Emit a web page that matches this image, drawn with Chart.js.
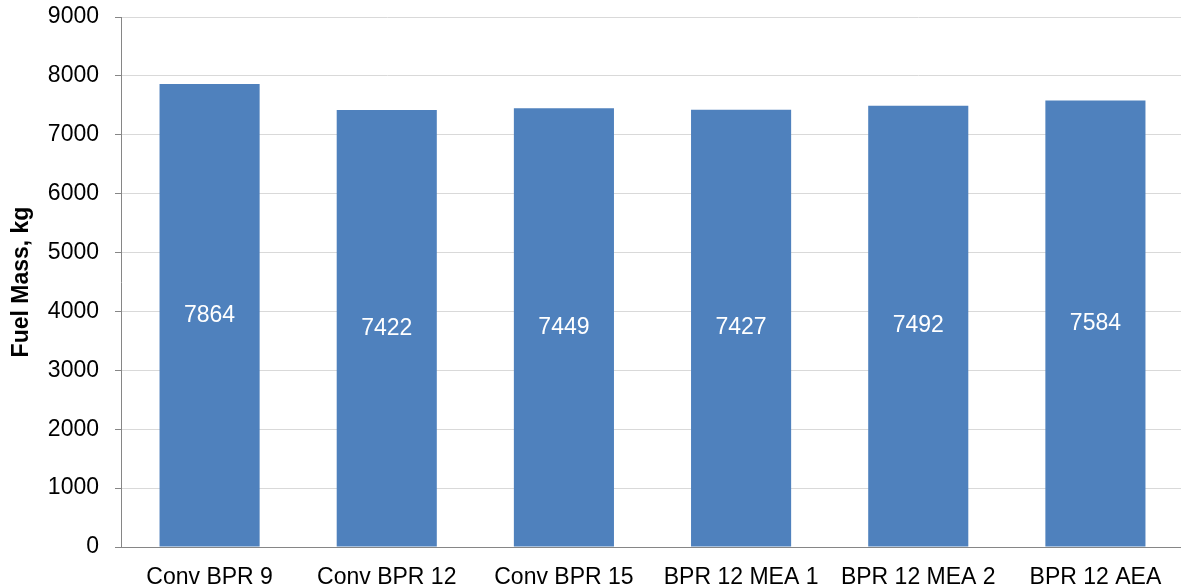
<!DOCTYPE html>
<html>
<head>
<meta charset="utf-8">
<script src="https://cdn.jsdelivr.net/npm/chart.js@4"></script>
<style>
    html, body { margin: 0; padding: 0; background: #fff; overflow: hidden; }
    #wrap { position: absolute; left: 0; top: 0; width: 1190px; height: 610px; }
</style>
</head>
<body>
<div id="wrap"><canvas id="chartCanvas" width="1190" height="610"></canvas></div>
<script>
// chart data
const categories = ["Conv BPR 9", "Conv BPR 12", "Conv BPR 15", "BPR 12 MEA 1", "BPR 12 MEA 2", "BPR 12 AEA"];
const fuelMass = [7864, 7422, 7449, 7427, 7492, 7584];
const yTicks = [0, 1000, 2000, 3000, 4000, 5000, 6000, 7000, 8000, 9000];

const FONT = "'Liberation Sans', Arial, sans-serif";

/* ----------------------------------------
   VALUE LABELS INSIDE BARS
---------------------------------------- */
const barLabels = {
    id: "barLabels",
    afterDatasetsDraw(chart) {
        const ctx = chart.ctx;
        const meta = chart.getDatasetMeta(0);
        ctx.save();
        ctx.fillStyle = "#fff";
        ctx.font = "23px " + FONT;
        ctx.textAlign = "center";
        ctx.textBaseline = "middle";
        meta.data.forEach((bar, i) => {
            const mid = (bar.y + bar.base) / 2;
            ctx.fillText(String(fuelMass[i]), bar.x, mid);
        });
        ctx.restore();
    }
};

new Chart(document.getElementById("chartCanvas").getContext("2d"), {
    type: "bar",
    data: {
        labels: categories,
        datasets: [{
            data: fuelMass,
            backgroundColor: "#4f81bd",
            borderWidth: 0,
            categoryPercentage: 1,
            barPercentage: 0.565
        }]
    },
    options: {
        responsive: false,
        animation: false,
        events: [],
        layout: { autoPadding: false, padding: { top: 17, right: 6, left: 0, bottom: 0 } },
        plugins: {
            legend: { display: false },
            tooltip: { enabled: false }
        },
        scales: {
            x: {
                grid: { display: false, drawTicks: false },
                border: { display: true, color: "#868686", width: 1 },
                ticks: {
                    color: "#000",
                    padding: 17,
                    maxRotation: 0,
                    autoSkip: false,
                    font: { family: FONT, size: 23 }
                },
                afterFit: (s) => { s.height = 63; }
            },
            y: {
                min: 0,
                max: 9000,
                afterBuildTicks: (s) => { s.ticks = yTicks.map(v => ({ value: v })); },
                grid: {
                    color: "#d9d9d9",
                    tickColor: "#868686",
                    tickLength: 6,
                    lineWidth: 1
                },
                border: { display: true, color: "#868686", width: 1 },
                ticks: {
                    color: "#000",
                    padding: 16,
                    callback: (v) => String(v),
                    font: { family: FONT, size: 23 }
                },
                title: {
                    display: true,
                    text: "Fuel Mass, kg",
                    color: "#000",
                    padding: { top: 8, bottom: 0 },
                    font: { family: FONT, size: 23, weight: "bold" }
                },
                afterFit: (s) => {
                    s.width = 121;
                    // tick padding must not push the plot top down
                    s.paddingTop = 0;
                    s.paddingBottom = 0;
                }
            }
        }
    },
    plugins: [barLabels]
});
</script>
</body>
</html>
